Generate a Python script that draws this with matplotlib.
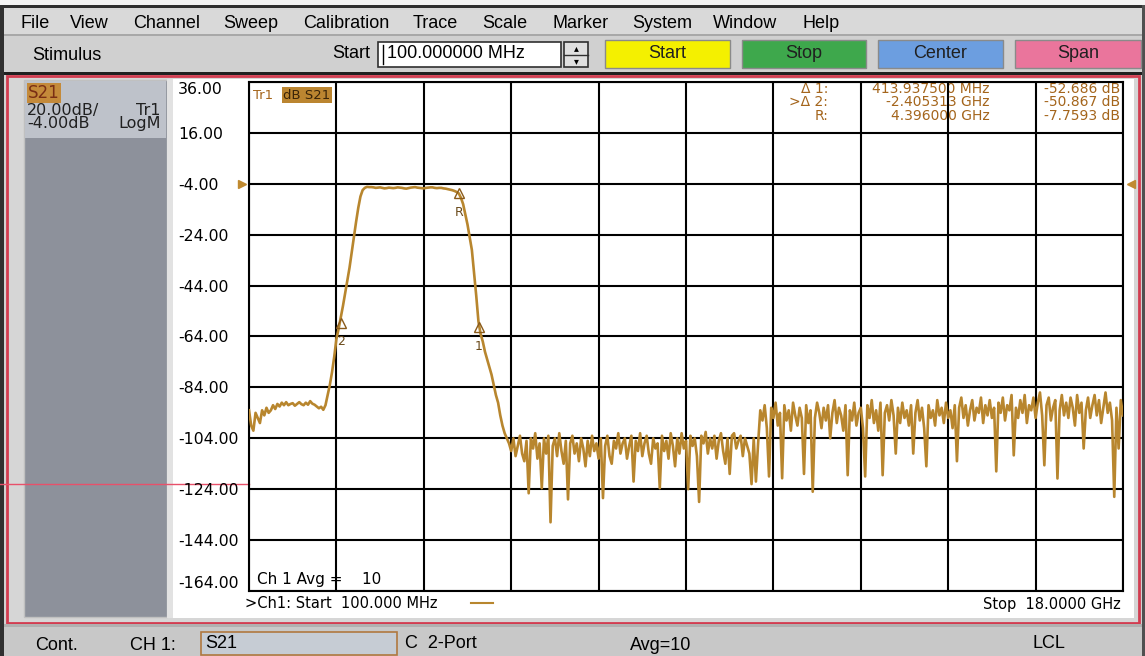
import numpy as np
import matplotlib
matplotlib.use('Agg')
import matplotlib.pyplot as plt
from matplotlib.patches import Rectangle
import matplotlib.transforms as mtransforms

plt.rcParams['font.family'] = ['DejaVu Sans']

# sweep: 100 MHz .. 18 GHz, 401 points, S21 in dB
start_ghz = 0.1
stop_ghz = 18.0

s21_db = [
    # low band below the filter
    -93, -99, -101, -94, -96, -98, -93, -95, -92, -94,
    -93, -91, -92.5, -90.5, -91.5, -90, -91, -89.8, -91, -90.5,
    -90.2, -91.2, -90.5, -89.8, -90.6, -91, -90, -90.8, -89.4, -90.4,
    -90.8, -91.5, -92.2, -91.6, -92.8, -91,
    # lower skirt
    -87, -83, -78, -72, -65, -61, -56.5, -52, -47, -42,
    -37, -31, -25, -19, -13.5, -9, -6.5, -5.6, -5.2, -5.3,
    # passband
    -5.3, -5.4, -5.6, -5.5, -5.4, -5.6, -5.8, -5.7, -5.5, -5.6,
    -5.7, -5.6, -5.4, -5.5, -5.6, -5.8, -5.9, -5.7, -5.5, -5.4,
    -5.3, -5.5, -5.6, -5.7, -5.8, -5.6, -5.5, -5.4, -5.4, -5.6,
    -5.7, -5.6, -5.6, -5.8, -5.9, -6.1, -6.3, -6.5, -6.8, -7.2,
    -7.76,
    # upper skirt
    -9.5, -12, -16, -20, -25, -30, -39, -48, -58, -63,
    -66, -70, -73, -76, -79, -83, -87, -90, -95, -99,
    -102, -104,
    # noise floor 5..10.5 GHz
    -106, -109, -104, -111, -107, -103, -110, -113, -105, -125.6,
    -104, -108, -102, -112, -106, -123.6, -104, -110, -103, -137,
    -107, -104, -111, -102, -109, -114, -105, -128, -106, -103,
    -110, -106, -113, -104, -108, -115, -105, -111, -103, -109,
    -106, -112, -104, -127.5, -107, -103, -111, -114, -105, -108,
    -102, -110, -106, -104, -112, -107, -103, -121, -105, -109,
    -102, -111, -106, -103, -110, -114, -104, -108, -106, -123.6,
    -103, -109, -105, -112, -102, -107, -115, -104, -110, -102,
    -108, -105, -124, -103, -107, -104, -111, -129, -103, -106,
    -101.5, -110, -104, -108, -103, -112, -105, -102, -109, -114,
    -104, -118, -103, -102, -108, -105, -103, -111, -104, -107,
    -110, -122, -104, -121, -106,
    # noise floor 10.5..18 GHz
    -93, -97, -91, -100, -119, -92, -96, -90, -99, -94,
    -119.7, -91, -97, -93, -101, -90, -95, -99, -92, -96,
    -118, -91, -98, -93, -125, -96, -90, -94, -100, -92,
    -97, -91, -104, -94, -89, -98, -92, -95, -101, -91,
    -118.5, -93, -97, -90, -99, -94, -92, -100, -119, -91,
    -96, -89, -98, -93, -101, -90, -118.5, -94, -91, -97,
    -89, -95, -110, -92, -98, -90, -96, -93, -99, -91,
    -110, -94, -89, -97, -92, -100, -115, -91, -96, -93,
    -99, -89, -95, -92, -98, -90, -96, -93, -100, -91,
    -113, -92, -88, -96, -91, -99, -93, -89, -97, -92,
    -94, -88, -98, -91, -95, -89, -96, -92, -117, -90,
    -94, -88, -97, -91, -93, -87, -110.7, -92, -96, -89,
    -94, -87, -98, -91, -93, -88, -96, -90, -86, -95,
    -114.6, -91, -88, -97, -92, -89, -119.8, -93, -87, -95,
    -90, -96, -88, -92, -99, -87, -94, -90, -108, -93,
    -88, -96, -91, -87, -95, -89, -98, -92, -86, -94,
    -90, -97, -127, -92, -108, -89, -95,
]

y_ticks = [36, 16, -4, -24, -44, -64, -84, -104, -124, -144, -164]
y_labels = ['36.00', '16.00', '-4.00', '-24.00', '-44.00', '-64.00',
            '-84.00', '-104.00', '-124.00', '-144.00', '-164.00']
ref_level = -4

# markers (GHz, dB)
marker_names = ['1', '2', 'R']
marker_ghz = [4.8099375, 1.990687, 4.396]
marker_db = [-60.4453, -58.6263, -7.7593]
readout_names = ['\u0394 1:', '>\u0394 2:', 'R:']
readout_freq = ['413.937500 MHz', '-2.405313 GHz', '4.396000 GHz']
readout_val = ['-52.686 dB', '-50.867 dB', '-7.7593 dB']

menu_items = ['File', 'View', 'Channel', 'Sweep', 'Calibration', 'Trace',
              'Scale', 'Marker', 'System', 'Window', 'Help']
menu_x = [20, 70, 133, 223, 303, 413, 482, 553, 632, 713, 802]

buttons = ['Start', 'Stop', 'Center', 'Span']
button_x = [605, 742, 878, 1015]
button_w = [125, 124, 125, 126]
button_col = ['#f4f000', '#3ea84c', '#6c9ee0', '#ea759c']

trace_col = '#b8862e'
text_brown = '#a4651c'
ui_font = 'Liberation Sans'

W, H = 1145, 656
fig = plt.figure(figsize=(W / 100, H / 100), dpi=100)

# ---- background "screen" drawn in pixel coordinates ----
bg = fig.add_axes([0, 0, 1, 1], zorder=0)
bg.set_xlim(0, W)
bg.set_ylim(H, 0)
bg.axis('off')

def box(x0, y0, x1, y1, fc, ec='none', lw=0):
    bg.add_patch(Rectangle((x0, y0), x1 - x0, y1 - y0, facecolor=fc,
                           edgecolor=ec, linewidth=lw))

box(0, 0, W, H, '#d2d2d2')
box(0, 0, W, 5, '#f4f4f4')
box(0, 5, W, 8, '#303030')
box(0, 5, 4, H, '#303030')
box(W - 3, 5, W, H, '#505050')
box(4, 8, W - 3, 34, '#d9d9d9')
box(4, 34, W - 3, 36, '#a8a8a8')
box(4, 36, W - 3, 72, '#d0d0d0')
box(4, 72, W - 3, 75, '#202020')

for name, x in zip(menu_items, menu_x):
    bg.text(x, 23, name, fontsize=13, family=ui_font, va='center')

bg.text(32, 55, 'Stimulus', fontsize=13, family=ui_font, va='center')
bg.text(370, 54, 'Start', fontsize=13, family=ui_font, va='center', ha='right')
box(378, 42, 561, 67, 'white', '#303030', 1.2)
bg.plot([383, 383], [45, 64], color='black', lw=1)
bg.text(387, 54, '100.000000 MHz', fontsize=13, family=ui_font, va='center')
box(564, 42, 588, 67, '#e0e0e0', '#303030', 1.2)
bg.plot([564, 588], [54.5, 54.5], color='#303030', lw=1)
bg.text(576, 48, '\u25b4', fontsize=7, ha='center', va='center')
bg.text(576, 61, '\u25be', fontsize=7, ha='center', va='center')

for name, x, w, c in zip(buttons, button_x, button_w, button_col):
    box(x, 40, x + w, 68, c, '#8a8a8a', 1)
    bg.text(x + w / 2, 54, name, fontsize=13, family=ui_font,
            ha='center', va='center', color='#202020')

# channel window
box(7, 76, 1139, 623, '#d6d6d6', '#d23c50', 2)
box(24, 80, 167, 617, '#8d919b', '#c0c0c0', 1)
box(25, 81, 166, 138, '#bec2ca')
box(167, 79, 173, 618, '#e2e2e2')
box(173, 79, 1134, 618, 'white')
bg.text(28, 93, 'S21', fontsize=12, va='center', color='#7a2e14',
        bbox=dict(boxstyle='square,pad=0.08', fc='#c48a3a', ec='none'))
bg.text(27, 117, '20.00dB/\n-4.00dB', fontsize=11.5, va='center', linespacing=0.85,
        color='#202020')
bg.text(161, 117, 'Tr1\nLogM', fontsize=11.5, va='center', ha='right',
        multialignment='right', linespacing=0.85, color='#202020')
bg.plot([0, 249], [484, 484], color='#e8506a', lw=1)

# status bar
box(4, 624, W - 3, 627, '#b0b0b0')
box(4, 627, W - 3, H, '#c8c8c8')
bg.text(35, 645, 'Cont.', fontsize=13, family=ui_font, va='center')
bg.text(130, 645, 'CH 1:', fontsize=13, family=ui_font, va='center')
box(201, 632, 397, 655, '#c6ccd4', '#b07840', 1.2)
bg.text(205, 644, 'S21', fontsize=13, family=ui_font, va='center')
bg.text(405, 644, 'C  2-Port', fontsize=13, family=ui_font, va='center')
bg.text(630, 645, 'Avg=10', fontsize=13, family=ui_font, va='center')
bg.text(1032, 644, 'LCL', fontsize=13, family=ui_font, va='center')

# marker readout: one multi-line text per column
for col, xr in zip([readout_names, readout_freq, readout_val], [828, 990, 1120]):
    bg.text(xr, 102.5, '\n'.join(col), fontsize=10, ha='right', va='center',
            multialignment='right', linespacing=0.95, color=text_brown, zorder=5)

bg.text(245, 604, '>Ch1: Start  100.000 MHz', fontsize=10.5, va='center')
bg.plot([471, 493], [603, 603], color=trace_col, lw=1.5)
bg.text(1121, 604, 'Stop  18.0000 GHz', fontsize=10.5, va='center', ha='right')

# ---- the measurement grid ----
left, right, top, bottom = 249, 1123, 82, 591
ax = fig.add_axes([left / W, 1 - bottom / H, (right - left) / W, (bottom - top) / H],
                  zorder=2)
ax.patch.set_alpha(0)
freqs = np.linspace(start_ghz, stop_ghz, len(s21_db))
ax.plot(freqs, s21_db, color=trace_col, lw=1.9, zorder=3)
ax.set_xlim(start_ghz, stop_ghz)
ax.set_ylim(y_ticks[-1], y_ticks[0])
ax.set_xticks(np.linspace(start_ghz, stop_ghz, 11))
ax.set_xticklabels([])
ax.set_yticks(y_ticks, labels=y_labels)
ax.tick_params(axis='both', length=0)
ax.tick_params(axis='y', pad=51, labelsize=11.3)
for i, lbl in enumerate(ax.get_yticklabels()):
    lbl.set_ha('left')
    if i == 0:
        lbl.set_va('top')
    elif i == len(y_ticks) - 1:
        lbl.set_va('bottom')
ax.grid(True, color='black', lw=1.5, zorder=1)
ax.set_axisbelow(True)
for s in ax.spines.values():
    s.set_color('black')
    s.set_linewidth(1.5)

# reference level arrows
blend = mtransforms.blended_transform_factory(ax.transAxes, ax.transData)
ax.plot([-0.008], [ref_level], marker='>', ms=6, color='#c08a30', transform=blend, clip_on=False)
ax.plot([1.009], [ref_level], marker='<', ms=6, color='#c08a30', transform=blend, clip_on=False)

# markers
for n, f, d in zip(marker_names, marker_ghz, marker_db):
    ax.plot([f], [d], marker='^', ms=7, mfc='none', mec='#8a5a1a', mew=1, zorder=4)
    ax.annotate(n, (f, d), xytext=(0, -9), textcoords='offset points',
                ha='center', va='top', fontsize=9, color='#6a4a1a', zorder=4)

ax.text(0.005, 0.974, 'Tr1', transform=ax.transAxes, fontsize=9.5, va='center', color=text_brown)
ax.text(0.039, 0.974, 'dB S21', transform=ax.transAxes, fontsize=9.5, va='center', color='#3a2408',
        bbox=dict(boxstyle='square,pad=0.1', fc='#bb8530', ec='none'))
ax.text(0.009, 0.022, 'Ch 1 Avg =    10', transform=ax.transAxes, fontsize=11, va='center')

fig.savefig('out.png', dpi=100)
